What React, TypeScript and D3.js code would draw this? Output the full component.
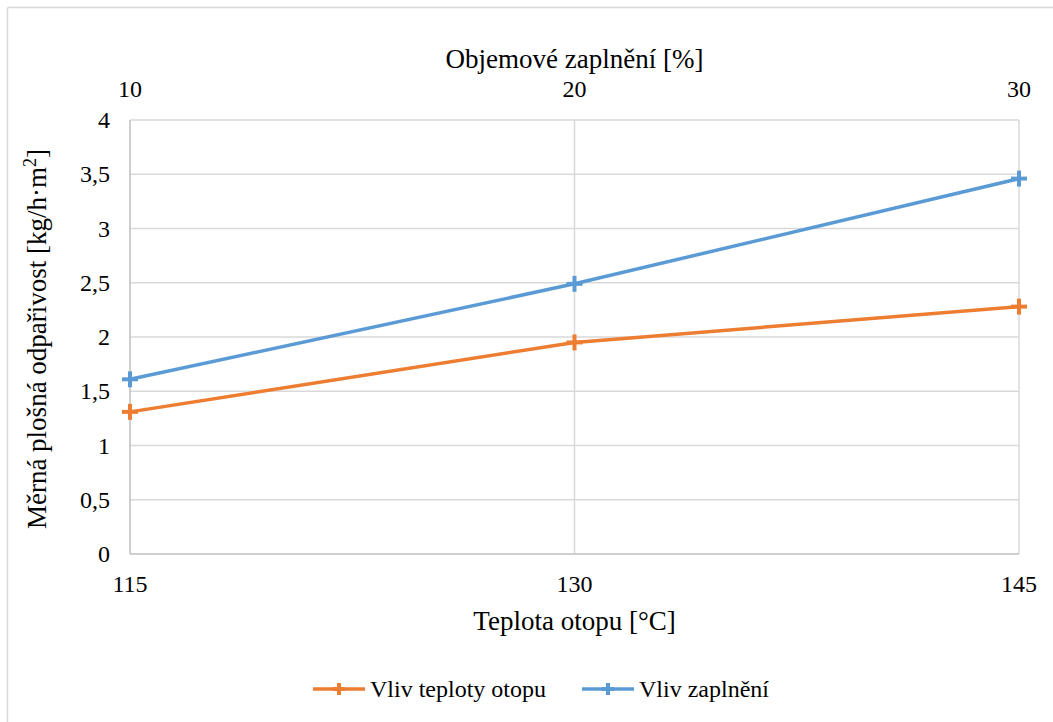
import React from "react";
import * as d3 from "d3";

const tempCategories = [115, 130, 145];
const fillCategories = [10, 20, 30];
const seriesTemp = [1.31, 1.95, 2.28];
const seriesFill = [1.61, 2.49, 3.46];
const yTicks = [0, 0.5, 1, 1.5, 2, 2.5, 3, 3.5, 4];
const seriesNames = ["Vliv teploty otopu", "Vliv zaplnění"];
const colors = ["#ED7D31", "#5B9BD5"];

const W = 1053, H = 722;
const L = 130, R = 1019, T = 120, B = 554;
const FF = "Liberation Serif";

export default function App() {
  const xB = d3.scaleLinear().domain([115, 145]).range([L, R]);
  const xT = d3.scaleLinear().domain([10, 30]).range([L, R]);
  const y = d3.scaleLinear().domain([0, 4]).range([B, T]);
  const fmt = (v: number) => String(v).replace(".", ",");
  const line = d3.line<[number, number]>().x(d => d[0]).y(d => d[1]);
  const tempPts: [number, number][] = tempCategories.map((c, i) => [xB(c), y(seriesTemp[i])]);
  const fillPts: [number, number][] = fillCategories.map((c, i) => [xT(c), y(seriesFill[i])]);
  const plus = (x: number, yy: number, c: string, k: string, s = 8) => (
    <g key={k} stroke={c} strokeWidth={4}>
      <line x1={x - s} x2={x + s} y1={yy} y2={yy} />
      <line x1={x} x2={x} y1={yy - s} y2={yy + s} />
    </g>
  );
  return (
    <svg width={W} height={H} fontFamily={FF} style={{ position: "absolute", left: 0, top: 0 }}>
      <rect x={0} y={0} width={W} height={H} fill="#fff" />
      <line x1={7.5} x2={W} y1={7.5} y2={7.5} stroke="#D9D9D9" strokeWidth={1.5} />
      <line x1={7.5} x2={7.5} y1={7.5} y2={H} stroke="#D9D9D9" strokeWidth={1.5} />
      {yTicks.filter(t => t > 0).map(t => (
        <line key={t} x1={L} x2={R} y1={y(t)} y2={y(t)} stroke="#D9D9D9" strokeWidth={1.5} />
      ))}
      {tempCategories.slice(1).map(c => (
        <line key={c} x1={xB(c)} x2={xB(c)} y1={T} y2={B} stroke="#D9D9D9" strokeWidth={1.5} />
      ))}
      <line x1={L} x2={L} y1={T} y2={B} stroke="#BFBFBF" strokeWidth={1.5} />
      <line x1={L} x2={R} y1={B} y2={B} stroke="#BFBFBF" strokeWidth={1.5} />
      {yTicks.map(t => (
        <text key={t} x={110} y={y(t) + 8} textAnchor="end" fontSize={24} fontFamily={FF}>{fmt(t)}</text>
      ))}
      {tempCategories.map(c => (
        <text key={c} x={xB(c)} y={592} textAnchor="middle" fontSize={24} fontFamily={FF}>{c}</text>
      ))}
      {fillCategories.map(c => (
        <text key={c} x={xT(c)} y={97} textAnchor="middle" fontSize={24} fontFamily={FF}>{c}</text>
      ))}
      <text x={(L + R) / 2} y={630} textAnchor="middle" fontSize={27} fontFamily={FF}>Teplota otopu [°C]</text>
      <text x={(L + R) / 2} y={68} textAnchor="middle" fontSize={27} fontFamily={FF}>Objemové zaplnění [%]</text>
      <text transform={`translate(46,${(T + B) / 2 + 2}) rotate(-90)`} textAnchor="middle" fontSize={27} fontFamily={FF}>
        Měrná plošná odpařivost [kg/h·m<tspan dy={-10} fontSize={18}>2</tspan><tspan dy={10}>]</tspan>
      </text>
      <path d={line(tempPts) || ""} fill="none" stroke={colors[0]} strokeWidth={3.5} />
      <path d={line(fillPts) || ""} fill="none" stroke={colors[1]} strokeWidth={3.5} />
      {tempPts.map((p, i) => plus(p[0], p[1], colors[0], "t" + i))}
      {fillPts.map((p, i) => plus(p[0], p[1], colors[1], "f" + i))}
      {[0, 1].map(i => {
        const lx = i === 0 ? 313 : 582;
        return (
          <g key={i}>
            <line x1={lx} x2={lx + 52} y1={689} y2={689} stroke={colors[i]} strokeWidth={3.5} />
            {plus(lx + 26, 689, colors[i], "l" + i, 6)}
            <text x={lx + 57} y={697} fontSize={24} fontFamily={FF}>{seriesNames[i]}</text>
          </g>
        );
      })}
    </svg>
  );
}
